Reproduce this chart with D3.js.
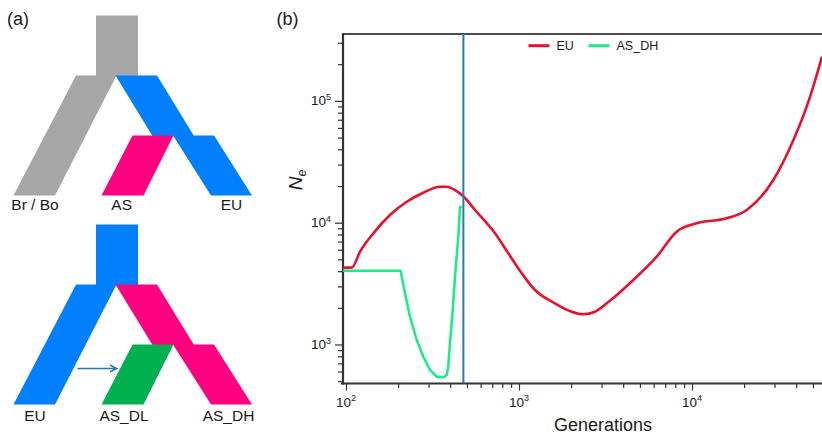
<!DOCTYPE html>
<html><head><meta charset="utf-8">
<script src="https://cdn.jsdelivr.net/npm/d3@7"></script>
<style>
body{margin:0;background:#fff}
svg{display:block}
text{font-family:"Liberation Sans",Arial,Helvetica,sans-serif;fill:#1a1a1a}
</style>
</head><body>
<svg id="c" width="822" height="436"></svg>
<script>
// ---------- Data (panel b) ----------
const euGen = [96.1,108,120.5,143.9,179.6,224.3,279.9,349.4,382,426.6,476.6,556.9,726.8,867.5,1037,1237,1614,2017,2356,2750,3214,4580,6250,8150,10640,15850,20700,29500,38560,48100,56400];
const euNe  = [4277,4277,5780,8180,11570,14860,17620,19750,19750,18540,16480,12710,8180,5610,3845,2802,2178,1859,1770,1859,2180,3388,5260,8440,9890,10870,12710,22430,47700,108000,230700];
const asGen = [96.1,207,219.3,234.4,256.3,280,306,334.4,365,382,390,399,414,426.6,446,456,468];
const asNe  = [4036,4036,2630,1690,1089,794,618,545,538,562,658,1023,1919,3605,7675,13380,13530];
const splitGen = 477;
const seriesNames = ["EU","AS_DH"];
const xMajor = [100,1000,10000];
const yMajor = [1000,10000,100000];
const xDomain = [96.1,56400];
const yDomain = [478.6,354000];

// ---------- Data (panel a) ----------
const treeTop = {trunk:"#a6a6a6", left:"#a6a6a6", right:"#0080ff", mid:"#ff0080", labels:["Br / Bo","AS","EU"]};
const treeBot = {trunk:"#0080ff", left:"#0080ff", right:"#ff0080", mid:"#00b050", labels:["EU","AS_DL","AS_DH"]};

const svg = d3.select("#c");
const colors = {EU:"#e6122d", AS_DH:"#1eea8a", split:"#2a79b1"};

// ---------- Panel (a) ----------
svg.append("text").attr("x",7).attr("y",24.5).attr("font-size",18).text("(a)");
// unit geometry via scales
const lx = d3.scaleLinear().domain([0,1]).range([0,1]);
const levels = [0,60,120,180];
function drawTree(oy, spec, labelY, labelX, arrow){
  const g = svg.append("g");
  const L = levels.map(v=>oy+v);
  const shapes = [
    {c:spec.trunk, p:[[96,L[0]],[138,L[0]],[138,L[1]+0.5],[96,L[1]+0.5]]},
    {c:spec.left,  p:[[76,L[1]],[116.5,L[1]],[55,L[3]],[13.5,L[3]]]},
    {c:spec.right, p:[[115.5,L[1]],[157,L[1]],[194,L[2]+0.5],[152.5,L[2]+0.5]]},
    {c:spec.right, p:[[173,L[2]],[214,L[2]],[252,L[3]],[211,L[3]]]},
    {c:spec.mid,   p:[[132.5,L[2]],[173.5,L[2]],[143.5,L[3]],[101.5,L[3]]]}
  ];
  g.selectAll("polygon").data(shapes).join("polygon")
    .attr("points",d=>d.p.map(q=>[lx(q[0]),q[1]].join(",")).join(" "))
    .attr("fill",d=>d.c);
  g.selectAll("text.lab").data(spec.labels).join("text").attr("class","lab")
    .attr("x",(d,i)=>labelX[i]).attr("y",labelY).attr("text-anchor","middle")
    .attr("font-size",15.5).text(d=>d);
  if(arrow){
    const ay = oy+144;
    g.append("line").attr("x1",77.5).attr("x2",116).attr("y1",ay).attr("y2",ay)
      .attr("stroke","#2e74b5").attr("stroke-width",1.6);
    g.append("path").attr("d",`M110,${ay-3.5} L116.5,${ay} L110,${ay+3.5}`)
      .attr("fill","none").attr("stroke","#2e74b5").attr("stroke-width",1.6);
  }
}
drawTree(15.5, treeTop, 210, [35,121.7,231.5], false);
drawTree(224.5, treeBot, 420.5, [35,124,228.5], true);

// ---------- Panel (b) ----------
svg.append("text").attr("x",276.5).attr("y",24.5).attr("font-size",18).text("(b)");
const x = d3.scaleLog().domain(xDomain).range([343,822]);
const y = d3.scaleLog().domain(yDomain).range([383.5,34]);

svg.append("defs").append("clipPath").attr("id","clip")
  .append("rect").attr("x",343).attr("y",34).attr("width",479).attr("height",349.5);

// minor ticks
function minors(dom){
  const out=[];
  for(let e=Math.floor(Math.log10(dom[0])); e<=Math.ceil(Math.log10(dom[1])); e++){
    for(let k=1;k<=9;k++){const v=k*Math.pow(10,e); if(v>=dom[0]&&v<=dom[1]) out.push(v);}
  }
  return out;
}
const xt = minors(xDomain), yt = minors(yDomain);
const isMajor = v => Math.abs(Math.log10(v)-Math.round(Math.log10(v)))<1e-9;

// x axis
const gx = svg.append("g").attr("transform","translate(0,383.5)")
  .call(d3.axisBottom(x).tickValues(xt).tickSize(4.5).tickFormat(""));
gx.select(".domain").remove();
gx.selectAll(".tick line").attr("stroke","#333").attr("stroke-width",1.2)
  .attr("y2",d=>isMajor(d)?7:4.5);
svg.append("line").attr("x1",341).attr("x2",822).attr("y1",383.5).attr("y2",383.5)
  .attr("stroke","#333").attr("stroke-width",2.2);
xMajor.forEach(v=>{
  const t = svg.append("text").attr("x",x(v)).attr("y",406.5).attr("text-anchor","middle").attr("font-size",13.5);
  t.append("tspan").text("10");
  t.append("tspan").attr("font-size",9).attr("dy",-5.5).text(Math.round(Math.log10(v)));
});
svg.append("text").attr("x",603).attr("y",431).attr("text-anchor","middle").attr("font-size",18).text("Generations");

// y axis
const gy = svg.append("g").attr("transform","translate(343,0)")
  .call(d3.axisLeft(y).tickValues(yt).tickSize(5).tickFormat(""));
gy.select(".domain").remove();
gy.selectAll(".tick line").attr("stroke","#333").attr("stroke-width",1.2)
  .attr("x2",d=>isMajor(d)?-8:-5);
svg.append("line").attr("x1",343).attr("x2",343).attr("y1",34).attr("y2",384.5)
  .attr("stroke","#333").attr("stroke-width",2.2);
svg.append("line").attr("x1",342).attr("x2",822).attr("y1",34).attr("y2",34)
  .attr("stroke","#111").attr("stroke-width",1.4);
yMajor.forEach(v=>{
  const t = svg.append("text").attr("x",331).attr("y",y(v)+4.5).attr("text-anchor","end").attr("font-size",13.5);
  t.append("tspan").text("10");
  t.append("tspan").attr("font-size",9).attr("dy",-5.5).text(Math.round(Math.log10(v)));
});
const ylab = svg.append("text").attr("transform","translate(302,180) rotate(-90)")
  .attr("text-anchor","middle").attr("font-size",19).attr("font-style","italic");
ylab.append("tspan").text("N");
ylab.append("tspan").attr("font-size",12.5).attr("dy",4).text("e");

// lines
const plot = svg.append("g").attr("clip-path","url(#clip)");
const euData = euGen.map((g,i)=>[g,euNe[i]]);
const asData = asGen.map((g,i)=>[g,asNe[i]]);
plot.append("path").datum(euData)
  .attr("d",d3.line().x(d=>x(d[0])).y(d=>y(d[1])).curve(d3.curveMonotoneX))
  .attr("fill","none").attr("stroke",colors.EU).attr("stroke-width",2.6);
plot.append("path").datum(asData)
  .attr("d",d3.line().x(d=>x(d[0])).y(d=>y(d[1])).curve(d3.curveLinear))
  .attr("fill","none").attr("stroke",colors.AS_DH).attr("stroke-width",2.6).attr("stroke-linejoin","round");
plot.append("line").attr("x1",x(splitGen)).attr("x2",x(splitGen)).attr("y1",34).attr("y2",383.5)
  .attr("stroke",colors.split).attr("stroke-width",2);

// legend
const lg = svg.append("g");
const legX = [528.5,588.5];
seriesNames.forEach((n,i)=>{
  lg.append("line").attr("x1",legX[i]).attr("x2",legX[i]+21).attr("y1",45.7).attr("y2",45.7)
    .attr("stroke",colors[n]).attr("stroke-width",3);
  lg.append("text").attr("x",legX[i]+28).attr("y",50).attr("font-size",12.5).text(n);
});
</script>
</body></html>
